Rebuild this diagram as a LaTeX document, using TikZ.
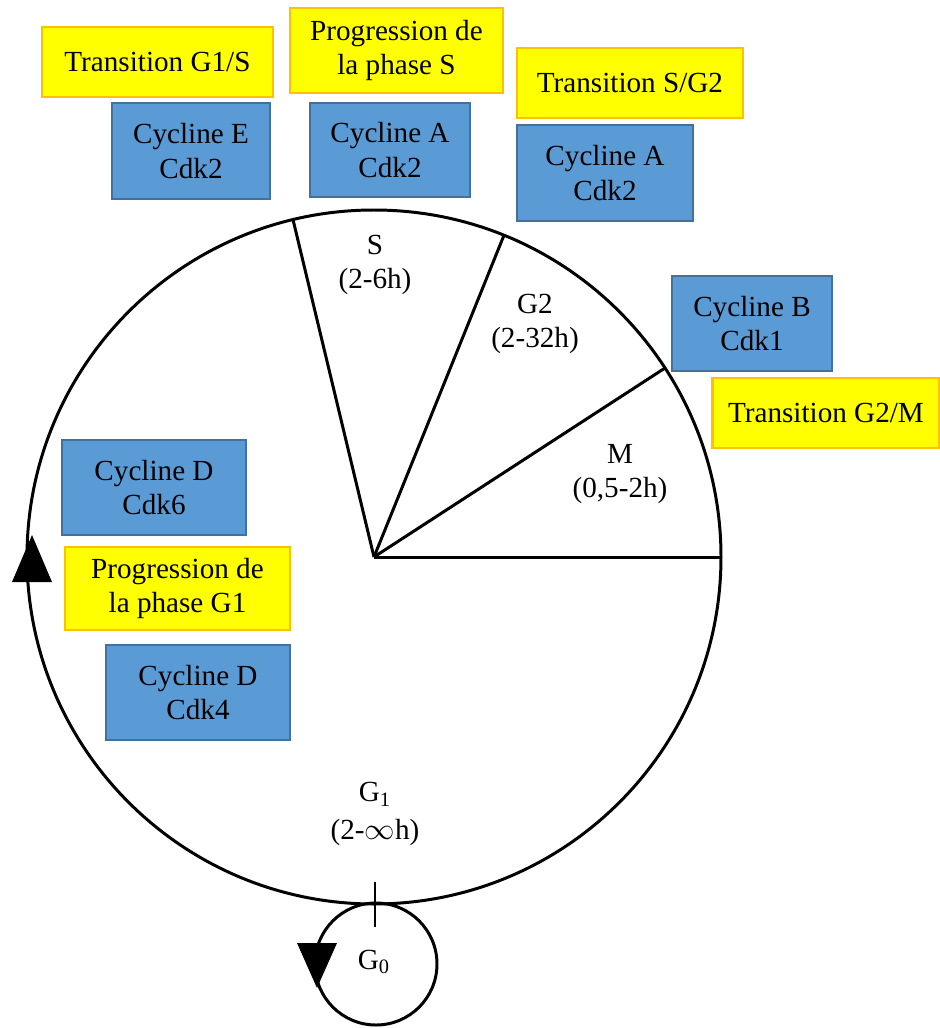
\documentclass[tikz,border=0pt]{standalone}
\usepackage{fontspec}
\setmainfont{Liberation Serif}
\usepackage{xcolor}
\usepackage{tikz}
\usetikzlibrary{
    positioning,
    calc,
}
\definecolor{boxyellow}{HTML}{FFFF00}
\definecolor{boxorange}{HTML}{FFC000}
\definecolor{boxblue}{HTML}{5B9BD5}
\definecolor{boxblueedge}{HTML}{41719C}
\tikzset{
    % Box styles
    phase box/.style={rectangle, draw=boxorange, fill=boxyellow, line width=1.2pt,
                      align=center, inner sep=0pt, font=\fontsize{16.6}{19.5}\selectfont},
    cdk box/.style={rectangle, draw=boxblueedge, fill=boxblue, line width=1.2pt,
                    align=center, inner sep=0pt, font=\fontsize{16.6}{19.5}\selectfont},
    % Line styles
    cycle line/.style={line width=1.7pt, black},
    phase label/.style={align=center, font=\fontsize{16.6}{19.5}\selectfont},
    tip/.style={fill=black, draw=none},
}

\begin{document}
\begin{tikzpicture}[x=0.02cm, y=-0.02cm]
    \useasboundingbox (0,0) rectangle (940,1028);

    % Cycle and sectors
    \coordinate (c) at (374,557);
    \draw[cycle line] (c) circle[radius=347];
    \draw[cycle line] (c) -- ++(0:347);
    \draw[cycle line] (c) -- ++(-33:347);
    \draw[cycle line] (c) -- ++(-68:347);
    \draw[cycle line] (c) -- ++(-103.5:347);

    % G0 loop
    \coordinate (g0) at (376,964);
    \draw[cycle line] (g0) circle[radius=61];
    \draw[cycle line] (375,882) -- (375,927);

    % Arrow heads
    \fill[tip] (12,582) -- (52,582) -- (32,535) -- cycle;
    \fill[tip] (297,943) -- (337,943) -- (317,988) -- cycle;

    % Phase labels
    \node[phase label] (s) at (375,265) {S\\(2-6h)};
    \node[phase label] (g2) at (535,324) {G2\\(2-32h)};
    \node[phase label] (m) at (620,474) {M\\(0,5-2h)};
    \node[phase label] (g1) at (375,814) {G\textsubscript{1}\\[2pt](2-$\infty$h)};
    \node[phase label] (g0label) at (374,962) {G\textsubscript{0}};

    % Transitions
    \node[phase box, minimum width=4.62cm, minimum height=1.40cm] (tgs) at (157.5,62) {Transition G1/S};
    \node[phase box, minimum width=4.26cm, minimum height=1.70cm] (pps) at (396.5,50.5) {Progression de\\la phase S};
    \node[phase box, minimum width=4.52cm, minimum height=1.40cm] (tsg) at (630,83) {Transition S/G2};
    \node[phase box, minimum width=4.54cm, minimum height=1.40cm] (tgm) at (826,413) {Transition G2/M};
    \node[phase box, minimum width=4.50cm, minimum height=1.66cm] (pg1) at (177.5,588.5) {Progression de\\la phase G1};

    % Cyclin / Cdk complexes
    \node[cdk box, minimum width=3.16cm, minimum height=1.92cm] (ce) at (191,151) {Cycline E\\Cdk2};
    \node[cdk box, minimum width=3.20cm, minimum height=1.88cm] (caS) at (390,150) {Cycline A\\Cdk2};
    \node[cdk box, minimum width=3.52cm, minimum height=1.92cm] (caG) at (605,173) {Cycline A\\Cdk2};
    \node[cdk box, minimum width=3.20cm, minimum height=1.90cm] (cb) at (752,323.5) {Cycline B\\Cdk1};
    \node[cdk box, minimum width=3.68cm, minimum height=1.90cm] (cd6) at (154,487.5) {Cycline D\\Cdk6};
    \node[cdk box, minimum width=3.68cm, minimum height=1.90cm] (cd4) at (198,692.5) {Cycline D\\Cdk4};
\end{tikzpicture}
\end{document}
